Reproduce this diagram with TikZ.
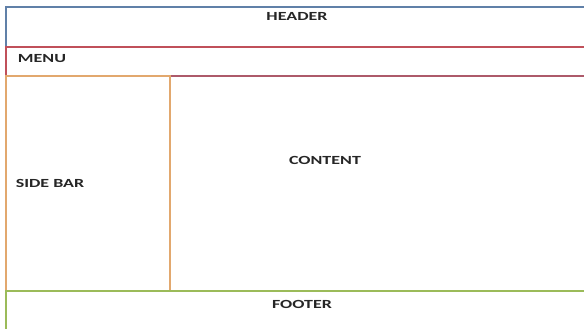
\documentclass[tikz,border=0pt]{standalone}
\usepackage{fontspec}
\setmainfont{Carlito}
\usetikzlibrary{positioning}

\definecolor{hdrblue}{RGB}{96,128,168}
\definecolor{menured}{RGB}{192,80,90}
\definecolor{sidetan}{RGB}{226,168,110}
\definecolor{ftrgreen}{RGB}{155,187,89}

\tikzset{
  region/.style={draw=#1, line width=1.6pt, rectangle, anchor=north west, inner sep=0pt},
  lbl/.style={font=\bfseries\fontsize{12.4}{14}\selectfont, text=black!85, inner sep=0pt, xscale=1.45, transform shape}
}

\begin{document}
\begin{tikzpicture}[x=1pt, y=-1pt]
\useasboundingbox (0,0) rectangle (584,329);
\clip (0,0) rectangle (584,329);
\fill[white] (0,0) rectangle (584,329);

% page regions
\node[region=hdrblue, minimum width=640pt, minimum height=40pt] (header) at (5,6) {};
\node[region=menured, minimum width=640pt, minimum height=29pt] (menu) at (5,46) {};
\node[region=menured!80!hdrblue, minimum width=480pt, minimum height=215pt] (content) at (169,75) {};
\node[region=sidetan, minimum width=164pt, minimum height=215pt] (sidebar) at (5,75) {};
\node[region=ftrgreen, minimum width=640pt, minimum height=60pt] (footer) at (5,290) {};

% captions
\node[lbl] (headerlbl) at (297,16) {HEADER};
\node[lbl] (menulbl) at (42,58.5) {MENU};
\node[lbl] (sidebarlbl) at (50,183) {SIDE BAR};
\node[lbl] (contentlbl) at (325,160) {CONTENT};
\node[lbl] (footerlbl) at (302,304) {FOOTER};
\end{tikzpicture}
\end{document}
